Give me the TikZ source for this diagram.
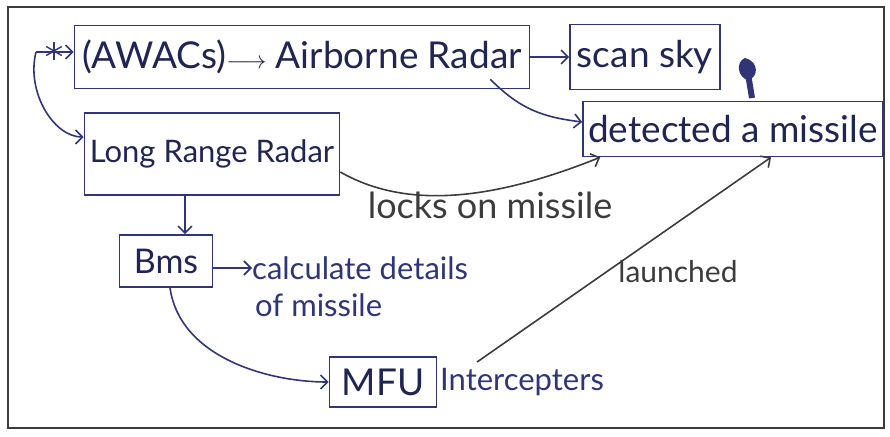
\documentclass[tikz,border=0pt]{standalone}
\usepackage{fontspec}
\setmainfont{Lato}
\usetikzlibrary{arrows.meta,calc}
\definecolor{ink}{HTML}{2F3578}
\definecolor{pencil}{HTML}{3C3C3C}

\begin{document}
\begin{tikzpicture}[x=1pt,y=-1pt,
        box/.style={draw=ink, line width=1.6pt, inner sep=0pt, text=ink!70!black},
        note/.style={inner sep=0pt, anchor=west},
        big/.style={font=\fontsize{37}{44}\selectfont},
        arr/.style={draw=ink, line width=1.6pt, -{Straight Barb[length=7pt,width=14pt]}},
        font=\fontsize{31}{37}\selectfont]
        \useasboundingbox (0,0) rectangle (890,436);
        \draw[pencil, line width=1.4pt] (8,7) rectangle (884,428);

        % boxes
        \node[box, big, minimum width=455pt, minimum height=63pt] (awacs) at (302,57) {(AWACs)$\longrightarrow$ Airborne Radar};
        \node[box, big, minimum width=150pt, minimum height=65pt] (scan) at (645,57) {scan sky};
        \node[box, big, minimum width=300pt, minimum height=55pt] (det) at (733,129) {detected a missile};
        \node[box, minimum width=255pt, minimum height=82pt] (lrr) at (212,154) {Long Range Radar};
        \node[box, font=\fontsize{34}{40}\selectfont, minimum width=93pt, minimum height=52pt] (bms) at (166,261) {Bms};
        \node[box, big, minimum width=107pt, minimum height=50pt] (mfu) at (383,382) {MFU};

        % free texts
        \node[note, text=ink] (calc) at (252,268) {calculate details};
        \node[note, text=ink] (calcb) at ($(calc.west)+(3,37)$) {of missile};
        \node[note, text=ink] (ints) at (440,382) {Intercepters};
        \node[text=pencil, inner sep=0pt, font=\fontsize{36}{42}\selectfont] (locks) at (490,205) {locks on missile};
        \node[text=pencil, inner sep=0pt, font=\fontsize{30}{36}\selectfont] (launch) at (678,272) {launched};

        % star and the ink blot
        \coordinate (split) at (36,52);
        \coordinate (star) at (54,51);
        \foreach \a in {30,90,150} {
            \draw[ink, line width=1.4pt] ($(star)+(\a:9)$) -- ($(star)+(\a+180:9)$);
        }
        \fill[ink] (745,58) .. controls (735,62) and (738,78) .. (748,80)
            .. controls (758,78) and (760,62) .. (745,58);
        \draw[ink, line width=6pt] (748,74) -- (752,98);

        % connectors
        \draw[arr] (split) -- (split -| awacs.west);
        \draw[arr] (split) .. controls +(-10,40) and +(-30,0) .. ([yshift=17pt]lrr.west);
        \draw[arr] (awacs.east) -- (scan.west);
        \draw[arr] ([xshift=-40pt,yshift=10pt]awacs.south east) .. controls +(30,30) and +(-40,-5) .. ([yshift=7pt]det.west);
        \draw[arr, draw=pencil] ([yshift=-18pt]lrr.east) .. controls +(70,40) and +(-100,40) .. ([xshift=18pt]det.south west);
        \draw[arr] ([xshift=-27pt]lrr.south) -- ([xshift=19pt]bms.north);
        \draw[arr] ([yshift=-7pt]bms.east) -- (calc.west);
        \draw[arr] ([xshift=4pt]bms.south) .. controls +(10,70) and +(-60,0) .. (mfu.west);
        \draw[arr, draw=pencil] ([xshift=37pt,yshift=6pt]ints.north west) -- ([xshift=38pt]det.south);
\end{tikzpicture}
\end{document}
